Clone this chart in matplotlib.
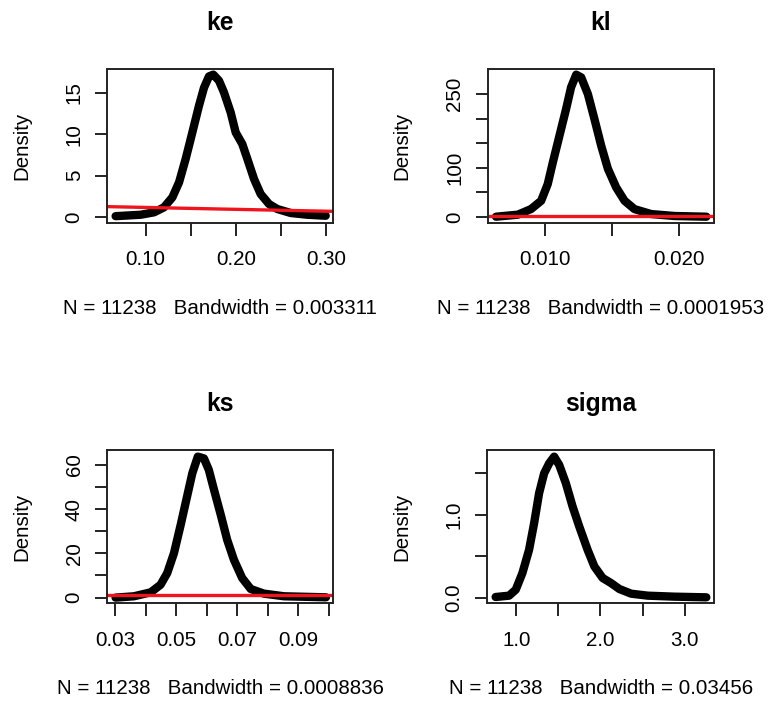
import matplotlib
matplotlib.use("Agg")
import matplotlib.pyplot as plt
import numpy as np

plt.rcParams['font.family'] = ['Liberation Sans', 'DejaVu Sans']

# ---------------- data ----------------
titles = ["ke", "kl", "ks", "sigma"]
bottom_texts = ["N = 11238   Bandwidth = 0.003311",
                "N = 11238   Bandwidth = 0.0001953",
                "N = 11238   Bandwidth = 0.0008836",
                "N = 11238   Bandwidth = 0.03456"]

ke_x = [0.0668, 0.0945, 0.1093, 0.1203, 0.1296, 0.1370, 0.1443, 0.1517, 0.1590, 0.1646,
        0.1701, 0.1749, 0.1812, 0.1867, 0.1941, 0.1997, 0.2070, 0.2126, 0.2200, 0.2273,
        0.2366, 0.2458, 0.2606, 0.2790, 0.2993]
ke_y = [0.10, 0.27, 0.56, 1.16, 2.37, 4.18, 7.0, 10.2, 13.4, 15.6,
        16.97, 17.18, 16.45, 15.04, 12.63, 10.2, 8.8, 7.0, 4.58, 2.77,
        1.56, 0.96, 0.48, 0.27, 0.15]
ke_prior_x = [0.0576, 0.183, 0.3077]
ke_prior_y = [1.25, 0.96, 0.68]

kl_x = [0.00635, 0.00797, 0.00896, 0.00971, 0.01020, 0.01058, 0.01107, 0.01157, 0.01194,
        0.01232, 0.01269, 0.01319, 0.01368, 0.01418, 0.01468, 0.01530, 0.01592, 0.01666,
        0.01790, 0.01965, 0.02201]
kl_y = [0.6, 4.7, 16.2, 33, 67, 111, 165, 220, 264,
        289.5, 284, 250, 199, 145, 98, 60, 33, 16,
        6, 2, 0.6]
kl_prior_x = [0.00573, 0.02258]
kl_prior_y = [2.0, 2.0]

ks_x = [0.0302, 0.0362, 0.0417, 0.0449, 0.0471, 0.0493, 0.0515, 0.0537, 0.0553, 0.0571,
        0.0591, 0.0607, 0.0624, 0.0646, 0.0667, 0.0689, 0.0716, 0.0744, 0.0787, 0.0853,
        0.0990]
ks_y = [0.0, 0.6, 2.39, 5.8, 11.1, 20.1, 32.9, 46.4, 56.2, 63.7,
        62.9, 57.7, 48.7, 37.4, 26.1, 17.1, 8.85, 3.9, 1.8, 0.6,
        0.14]
ks_prior_x = [0.0275, 0.1014]
ks_prior_y = [1.0, 1.0]

sigma_x = [0.755, 0.914, 0.994, 1.073, 1.152, 1.212, 1.271, 1.331, 1.391, 1.450,
           1.510, 1.589, 1.669, 1.748, 1.847, 1.927, 2.026, 2.125, 2.225, 2.364,
           2.562, 2.880, 3.257]
sigma_y = [0.008, 0.024, 0.096, 0.297, 0.577, 0.898, 1.259, 1.499, 1.62, 1.70,
           1.60, 1.379, 1.098, 0.858, 0.577, 0.377, 0.237, 0.176, 0.104, 0.048,
           0.024, 0.012, 0.004]

xlims = [(0.0576, 0.3077), (0.00573, 0.02258), (0.0275, 0.1014), (0.656, 3.348)]
ylims = [(-0.69, 17.86), (-11.6, 301.0), (-2.57, 66.7), (-0.068, 1.78)]

ke_xticks = [0.10, 0.15, 0.20, 0.25, 0.30]
ke_xlabels = ["0.10", "", "0.20", "", "0.30"]
ke_yticks = [0, 5, 10, 15]
ke_ylabels = ["0", "5", "10", "15"]

kl_xticks = [0.010, 0.015, 0.020]
kl_xlabels = ["0.010", "", "0.020"]
kl_yticks = [0, 50, 100, 150, 200, 250]
kl_ylabels = ["0", "", "100", "", "", "250"]

ks_xticks = [0.03, 0.04, 0.05, 0.06, 0.07, 0.08, 0.09, 0.10]
ks_xlabels = ["0.03", "", "0.05", "", "0.07", "", "0.09", ""]
ks_yticks = [0, 10, 20, 30, 40, 50, 60]
ks_ylabels = ["0", "", "20", "", "40", "", "60"]

sigma_xticks = [1.0, 1.5, 2.0, 2.5, 3.0]
sigma_xlabels = ["1.0", "", "2.0", "", "3.0"]
sigma_yticks = [0.0, 0.5, 1.0, 1.5]
sigma_ylabels = ["0.0", "", "1.0", ""]

curves = [(ke_x, ke_y), (kl_x, kl_y), (ks_x, ks_y), (sigma_x, sigma_y)]
priors = [(ke_prior_x, ke_prior_y), (kl_prior_x, kl_prior_y), (ks_prior_x, ks_prior_y), None]
xticks = [(ke_xticks, ke_xlabels), (kl_xticks, kl_xlabels), (ks_xticks, ks_xlabels), (sigma_xticks, sigma_xlabels)]
yticks = [(ke_yticks, ke_ylabels), (kl_yticks, kl_ylabels), (ks_yticks, ks_ylabels), (sigma_yticks, sigma_ylabels)]

# ---------------- layout ----------------
W, H = 768, 704
fig = plt.figure(figsize=(W / 100, H / 100), dpi=100)
boxes = [(107.3, 69, 333.3, 222.7), (487.7, 69, 714, 222.7),
         (107.3, 450, 333.3, 603.3), (487.3, 450, 714, 603.3)]

FS = 14.8
for i in range(4):
    x0, y0, x1, y1 = boxes[i]
    bw, bh = x1 - x0, y1 - y0
    ax = fig.add_axes([x0 / W, 1 - y1 / H, bw / W, bh / H])
    cx, cy = curves[i]
    ax.plot(cx, cy, color='black', lw=6, solid_capstyle='round', solid_joinstyle='round')
    if priors[i] is not None:
        px, py = priors[i]
        ax.plot(px, py, color='#f0141e', lw=2.4)
    ax.set_xlim(*xlims[i])
    ax.set_ylim(*ylims[i])
    ax.set_xticks(xticks[i][0])
    ax.set_xticklabels(xticks[i][1])
    ax.set_yticks(yticks[i][0])
    ax.set_yticklabels(yticks[i][1], rotation=90, va='center')
    ax.tick_params(axis='both', direction='out', length=9, width=1.4, labelsize=FS, color='#222222')
    ax.tick_params(axis='x', pad=11)
    ax.tick_params(axis='y', pad=8)
    for s in ax.spines.values():
        s.set_linewidth(1.4)
        s.set_color('#222222')
    ax.set_title(titles[i], fontsize=FS * 1.2, fontweight='bold', pad=28)
    ax.set_ylabel("Density", fontsize=FS, va='center')
    ax.yaxis.set_label_coords(-85.6 / bw, 0.5)
    ax.set_xlabel(bottom_texts[i], fontsize=FS, va='center')
    ax.xaxis.set_label_coords(0.5, -85.3 / bh)

fig.savefig("out.png", dpi=100, facecolor='white')
